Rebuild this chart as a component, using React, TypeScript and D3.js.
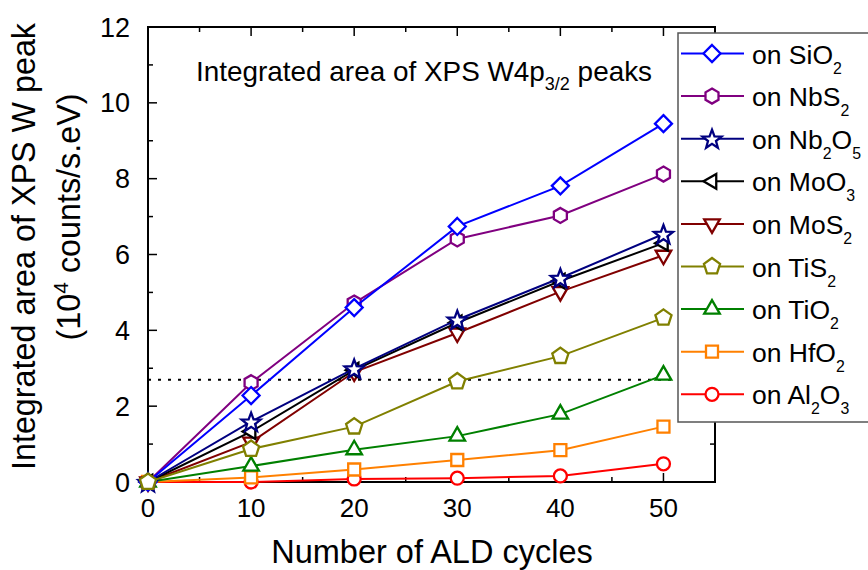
import React from "react";
import * as d3 from "d3";

const cycles = [0, 10, 20, 30, 40, 50];
const sio2 = [0, 2.28, 4.6, 6.74, 7.81, 9.45];
const nbs2 = [0, 2.62, 4.72, 6.41, 7.03, 8.12];
const nb2o5 = [0, 1.59, 2.99, 4.28, 5.38, 6.54];
const moo3 = [0, 1.33, 2.95, 4.2, 5.3, 6.3];
const mos2 = [0, 1.05, 2.9, 3.93, 5.02, 5.98];
const tis2 = [0, 0.87, 1.46, 2.65, 3.32, 4.33];
const tio2 = [0, 0.42, 0.85, 1.21, 1.79, 2.82];
const hfo2 = [0, 0.12, 0.33, 0.58, 0.84, 1.46];
const al2o3 = [0, 0.0, 0.08, 0.1, 0.16, 0.48];
const thresholdValue = 2.7;
const xTicks = [0, 10, 20, 30, 40, 50];
const yTicks = [0, 2, 4, 6, 8, 10, 12];

type Seg = { t: string; sub?: boolean };
type Series = { label: Seg[]; values: number[]; color: string; marker: string };

const series: Series[] = [
  { label: [{ t: "on SiO" }, { t: "2", sub: true }], values: sio2, color: "#0000ff", marker: "diamond" },
  { label: [{ t: "on NbS" }, { t: "2", sub: true }], values: nbs2, color: "#800080", marker: "hexagon" },
  { label: [{ t: "on Nb" }, { t: "2", sub: true }, { t: "O" }, { t: "5", sub: true }], values: nb2o5, color: "#000080", marker: "star" },
  { label: [{ t: "on MoO" }, { t: "3", sub: true }], values: moo3, color: "#000000", marker: "triLeft" },
  { label: [{ t: "on MoS" }, { t: "2", sub: true }], values: mos2, color: "#800000", marker: "triDown" },
  { label: [{ t: "on TiS" }, { t: "2", sub: true }], values: tis2, color: "#808000", marker: "pentagon" },
  { label: [{ t: "on TiO" }, { t: "2", sub: true }], values: tio2, color: "#008000", marker: "triUp" },
  { label: [{ t: "on HfO" }, { t: "2", sub: true }], values: hfo2, color: "#ff8000", marker: "square" },
  { label: [{ t: "on Al" }, { t: "2", sub: true }, { t: "O" }, { t: "3", sub: true }], values: al2o3, color: "#ff0000", marker: "circle" },
];
const drawOrder = [8, 7, 6, 4, 3, 2, 1, 0, 5];

function poly(n: number, r: number, rot: number) {
  const pts: string[] = [];
  for (let i = 0; i < n; i++) {
    const a = rot + (i * 2 * Math.PI) / n;
    pts.push(`${(Math.cos(a) * r).toFixed(2)},${(Math.sin(a) * r).toFixed(2)}`);
  }
  return "M" + pts.join("L") + "Z";
}

function markerPath(m: string): string {
  switch (m) {
    case "diamond":
      return poly(4, 8.5, -Math.PI / 2);
    case "hexagon":
      return poly(6, 7.5, -Math.PI / 2);
    case "star": {
      const pts: string[] = [];
      for (let i = 0; i < 10; i++) {
        const r = i % 2 === 0 ? 10 : 4.2;
        const a = -Math.PI / 2 + (i * Math.PI) / 5;
        pts.push(`${(Math.cos(a) * r).toFixed(2)},${(Math.sin(a) * r + 1).toFixed(2)}`);
      }
      return "M" + pts.join("L") + "Z";
    }
    case "triLeft":
      return poly(3, 8.5, Math.PI);
    case "triDown":
      return poly(3, 9, Math.PI / 2);
    case "triUp":
      return poly(3, 9, -Math.PI / 2);
    case "pentagon":
      return poly(5, 8.5, -Math.PI / 2);
    case "square":
      return "M-6,-6L6,-6L6,6L-6,6Z";
    case "circle":
    default:
      return d3.symbol().type(d3.symbolCircle).size(Math.PI * 6.5 * 6.5)() as string;
  }
}

const FONT = "'Liberation Sans', Arial, Helvetica, sans-serif";

function Label({ segs, x, y, size }: { segs: Seg[]; x: number; y: number; size: number }) {
  let prevSub = false;
  const shift = 10;
  return (
    <text x={x} y={y} fontSize={size} fontFamily={FONT} fill="#000">
      {segs.map((s, i) => {
        let dy = 0;
        if (s.sub && !prevSub) dy = shift;
        if (!s.sub && prevSub) dy = -shift;
        prevSub = !!s.sub;
        return (
          <tspan key={i} dy={dy} fontSize={s.sub ? size * 0.6 : size}>
            {s.t}
          </tspan>
        );
      })}
    </text>
  );
}

export default function App() {
  const W = 868, H = 570;
  const x = d3.scaleLinear().domain([0, 55]).range([148, 715]);
  const y = d3.scaleLinear().domain([0, 12]).range([482, 27]);
  const x0 = x(0), x1 = x(55), y0 = y(0), y1 = y(12);
  const line = d3.line<number>().x((_, i) => x(cycles[i])).y((v) => y(v));
  const xMinor = d3.range(0, 56, 5);
  const yMinor = d3.range(0, 13, 1);
  const legX = 678, legY = 33, legRow = 42.6;

  return (
    <svg width={W} height={H} style={{ position: "absolute", left: 0, top: 0, background: "#fff" }}>
      <rect x={0} y={0} width={W} height={H} fill="#fff" />
      {xMinor.map((t) => {
        const len = t % 10 === 0 ? 9 : 5;
        return (
          <g key={"xt" + t} stroke="#000" strokeWidth={1.5}>
            <line x1={x(t)} x2={x(t)} y1={y0} y2={y0 - len} />
            <line x1={x(t)} x2={x(t)} y1={y1} y2={y1 + len} />
          </g>
        );
      })}
      {yMinor.map((t) => {
        const len = t % 2 === 0 ? 9 : 5;
        return (
          <g key={"yt" + t} stroke="#000" strokeWidth={1.5}>
            <line x1={x0} x2={x0 + len} y1={y(t)} y2={y(t)} />
            <line x1={x1} x2={x1 - len} y1={y(t)} y2={y(t)} />
          </g>
        );
      })}
      <rect x={x0} y={y1} width={x1 - x0} height={y0 - y1} fill="none" stroke="#000" strokeWidth={2} />
      {xTicks.map((t) => (
        <text key={"xl" + t} x={x(t)} y={y0 + 35} fontSize={26} fontFamily={FONT} textAnchor="middle">
          {t}
        </text>
      ))}
      {yTicks.map((t) => (
        <text key={"yl" + t} x={x0 - 18} y={y(t) + 9.5} fontSize={27} fontFamily={FONT} textAnchor="end">
          {t}
        </text>
      ))}
      <text x={432} y={563} fontSize={32.5} fontFamily={FONT} textAnchor="middle">
        Number of ALD cycles
      </text>
      <g transform="translate(35,246.5) rotate(-90)">
        <text x={0} y={0} fontSize={32.3} fontFamily={FONT} textAnchor="middle">
          Integrated area of XPS W peak
        </text>
      </g>
      <g transform="translate(80,217) rotate(-90)">
        <text x={0} y={0} fontSize={32.3} fontFamily={FONT} textAnchor="middle">
          (10<tspan dy={-12} fontSize={21}>4</tspan>
          <tspan dy={12}> counts/s.eV)</tspan>
        </text>
      </g>
      <text x={196} y={81} fontSize={27.9} fontFamily={FONT}>
        Integrated area of XPS W4p
        <tspan dy={9} fontSize={18}>3/2</tspan>
        <tspan dy={-9}> peaks</tspan>
      </text>
      <line x1={x0} x2={x1} y1={y(thresholdValue)} y2={y(thresholdValue)} stroke="#000" strokeWidth={2} strokeDasharray="3,7" />
      {drawOrder.map((si) => {
        const s = series[si];
        return (
          <g key={"s" + si}>
            <path d={line(s.values) as string} fill="none" stroke={s.color} strokeWidth={2} />
            {s.values.map((v, i) => (
              <path
                key={i}
                d={markerPath(s.marker)}
                transform={`translate(${x(cycles[i])},${y(v)})`}
                fill="#fff"
                stroke={s.color}
                strokeWidth={2.3}
              />
            ))}
          </g>
        );
      })}
      <rect x={legX} y={legY} width={220} height={389} fill="#fff" stroke="#555" strokeWidth={1.5} />
      {series.map((s, i) => {
        const cy = legY + 20.5 + i * legRow;
        return (
          <g key={"lg" + i}>
            <line x1={681} x2={744} y1={cy} y2={cy} stroke={s.color} strokeWidth={2} />
            <path d={markerPath(s.marker)} transform={`translate(712,${cy})`} fill="#fff" stroke={s.color} strokeWidth={2.3} />
            <Label segs={s.label} x={752} y={cy + 10} size={26.5} />
          </g>
        );
      })}
    </svg>
  );
}
